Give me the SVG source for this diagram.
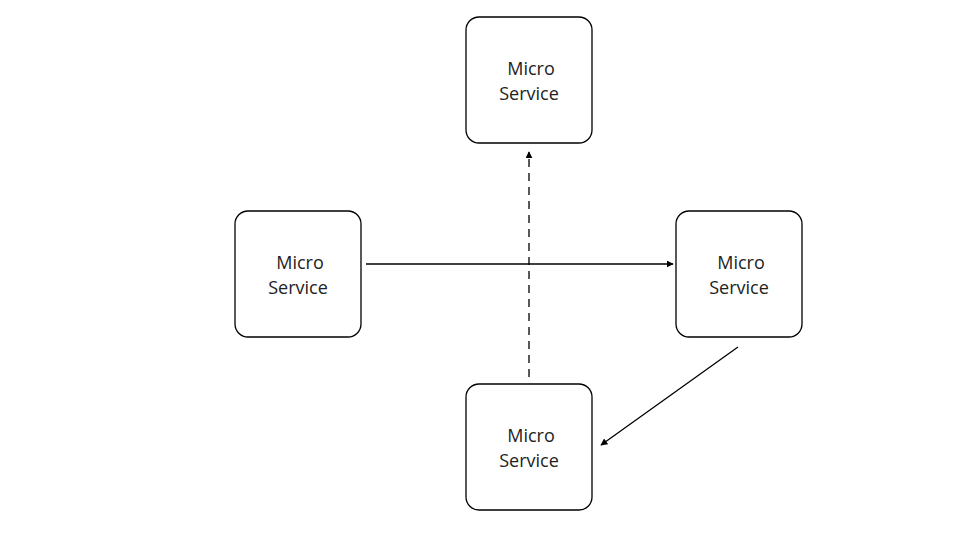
<svg xmlns="http://www.w3.org/2000/svg" width="975" height="548" viewBox="0 0 975 548">
<style>
.box{fill:#fff;stroke:#000;stroke-width:1.3}
.lbl{font-family:"Open Sans","Noto Sans",sans-serif;font-size:18px;fill:#222;text-anchor:middle}
.edge{stroke:#000;stroke-width:1.3;fill:none}
.dash{stroke-dasharray:8 6}
</style>
<defs>
<marker id="ah" viewBox="0 0 10 10" refX="9" refY="5" markerWidth="7" markerHeight="7" markerUnits="userSpaceOnUse" orient="auto">
<path d="M0,0 L10,5 L0,10 z" fill="#000"/>
</marker>
</defs>
<rect width="975" height="548" fill="#fff"/>
<g id="node-top">
<rect class="box" x="466" y="17" width="126" height="126" rx="13"/>
<text class="lbl" x="531" y="75">Micro</text>
<text class="lbl" x="529" y="100">Service</text>
</g>
<g id="node-left">
<rect class="box" x="235" y="211" width="126" height="126" rx="13"/>
<text class="lbl" x="300" y="269">Micro</text>
<text class="lbl" x="298" y="294">Service</text>
</g>
<g id="node-right">
<rect class="box" x="676" y="211" width="126" height="126" rx="13"/>
<text class="lbl" x="741" y="269">Micro</text>
<text class="lbl" x="739" y="294">Service</text>
</g>
<g id="node-bottom">
<rect class="box" x="466" y="384" width="126" height="126" rx="13"/>
<text class="lbl" x="531" y="442">Micro</text>
<text class="lbl" x="529" y="467">Service</text>
</g>
<g id="connectors">
<line class="edge" x1="366" y1="264" x2="673" y2="264" marker-end="url(#ah)"/>
<line class="edge dash" x1="529" y1="377" x2="529" y2="152" marker-end="url(#ah)"/>
<line class="edge" x1="738" y1="347" x2="601" y2="445" marker-end="url(#ah)"/>
</g>
</svg>
